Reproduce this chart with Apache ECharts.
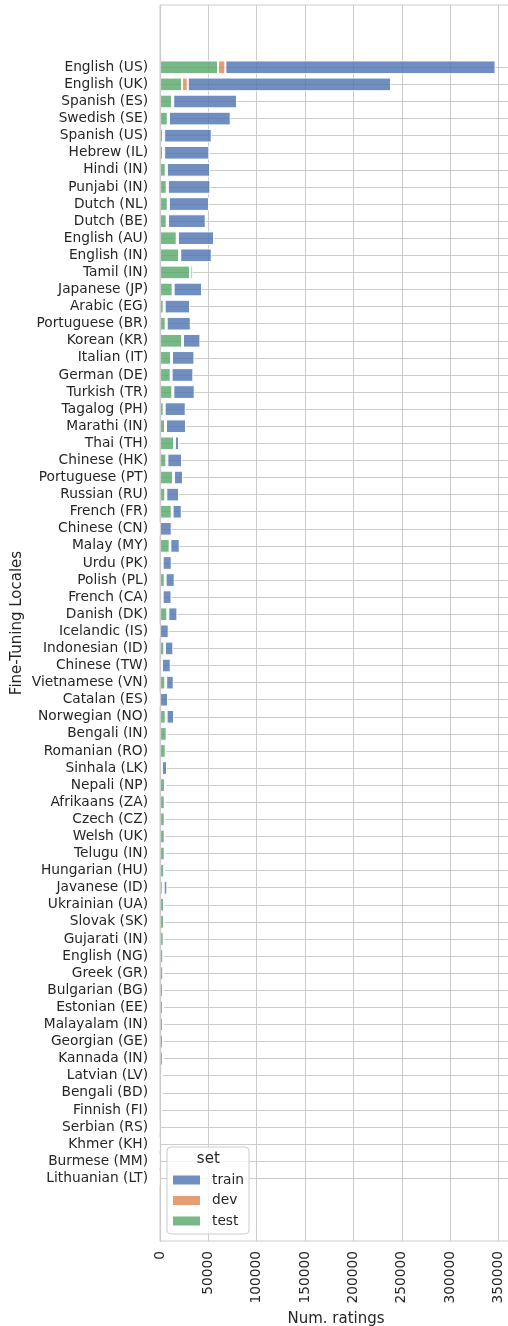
<!DOCTYPE html>
<html><head><meta charset="utf-8">
<script src="https://cdn.jsdelivr.net/npm/echarts/dist/echarts.min.js"></script>
<style>html,body{margin:0;padding:0;background:#fff}#c{width:508px;height:1326px}</style>
</head><body><div id="c"></div>
<script>
const locales = ['English (US)','English (UK)','Spanish (ES)','Swedish (SE)','Spanish (US)','Hebrew (IL)','Hindi (IN)','Punjabi (IN)','Dutch (NL)','Dutch (BE)','English (AU)','English (IN)','Tamil (IN)','Japanese (JP)','Arabic (EG)','Portuguese (BR)','Korean (KR)','Italian (IT)','German (DE)','Turkish (TR)','Tagalog (PH)','Marathi (IN)','Thai (TH)','Chinese (HK)','Portuguese (PT)','Russian (RU)','French (FR)','Chinese (CN)','Malay (MY)','Urdu (PK)','Polish (PL)','French (CA)','Danish (DK)','Icelandic (IS)','Indonesian (ID)','Chinese (TW)','Vietnamese (VN)','Catalan (ES)','Norwegian (NO)','Bengali (IN)','Romanian (RO)','Sinhala (LK)','Nepali (NP)','Afrikaans (ZA)','Czech (CZ)','Welsh (UK)','Telugu (IN)','Hungarian (HU)','Javanese (ID)','Ukrainian (UA)','Slovak (SK)','Gujarati (IN)','English (NG)','Greek (GR)','Bulgarian (BG)','Estonian (EE)','Malayalam (IN)','Georgian (GE)','Kannada (IN)','Latvian (LV)','Bengali (BD)','Finnish (FI)','Serbian (RS)','Khmer (KH)','Burmese (MM)','Lithuanian (LT)'];

const testVals = [60000,22800,12400,8000,3100,3100,5900,6900,8000,6900,17300,19700,31000,13100,3800,5900,22800,11400,11100,12800,3800,5200,14500,6600,13500,5500,12100,0,10000,1700,4900,1700,7600,0,4500,1000,5500,0,5900,6900,5900,700,5200,4900,4900,4900,4900,4500,2800,4300,4200,3800,3500,3500,3100,3100,3100,3100,3100,2000,1800,1400,500,200,100,100];

const devVals = [7600,5900,1300,1300,1200,1200,1200,1200,1200,1400,1200,1200,400,1000,1000,1000,1000,1000,900,1000,1000,1000,900,1000,900,1000,900,0,700,1000,900,1000,1000,0,600,1000,900,0,900,0,0,1300,0,0,0,0,0,0,1000,0,0,0,0,0,0,0,0,0,0,0,0,0,0,0,0,0];

const trainVals = [279400,210300,66000,63800,49200,46700,44700,44000,41500,39000,37400,32600,2400,29400,26300,24900,18000,23200,22500,22100,21800,20700,4300,15200,9400,13200,9500,12100,9700,9400,9400,9200,9400,9000,8700,9100,7800,8300,7700,0,0,5300,0,0,0,0,0,0,3800,0,0,0,0,0,0,0,0,0,0,0,0,0,0,0,0,0];

const legendOrder = ['train','dev','test'];
const tickStep = 50000;
const xMax = 364000;

const FONT = 'DejaVu Sans';
const TXT = '#262626';
const GRID = '#cccccc';

const chart = echarts.init(document.getElementById('c'), null, {renderer:'canvas'});
const mk = (name, data, color) => ({
  name, type:'bar', stack:'s', xAxisIndex:1, yAxisIndex:1, data,
  barWidth:'80%',
  itemStyle:{color, borderColor:'#ffffff', borderWidth:1}
});
chart.setOption({
  animation:false,
  textStyle:{fontFamily:FONT},
  grid:[
    {left:160, top:5, width:352, height:1236, show:true, borderColor:GRID, borderWidth:1, backgroundColor:'transparent', outerBoundsMode:'none', containLabel:false},
    {left:160, top:67.3, width:352, height:1111, outerBoundsMode:'none', containLabel:false}
  ],
  xAxis:[
    {gridIndex:0, type:'value', min:0, max:xMax, interval:tickStep,
     name:'Num. ratings', nameLocation:'middle', nameGap:68,
     nameTextStyle:{fontSize:15, color:TXT, fontFamily:FONT},
     axisLine:{show:false}, axisTick:{show:false},
     splitLine:{show:true, lineStyle:{color:GRID, width:1}},
     axisLabel:{rotate:90, fontSize:13.75, color:TXT, fontFamily:FONT, margin:10, showMaxLabel:false,
       formatter: v => (v % tickStep === 0 ? String(v) : '')}},
    {gridIndex:1, type:'value', min:0, max:xMax, show:false}
  ],
  yAxis:[
    {gridIndex:0, type:'value', min:0, max:1, z:10,
     axisLine:{show:true, lineStyle:{color:GRID, width:1.25}},
     axisTick:{show:false}, axisLabel:{show:false}, splitLine:{show:false},
     name:'Fine-Tuning Locales', nameLocation:'middle', nameGap:135,
     nameTextStyle:{fontSize:15, color:TXT, fontFamily:FONT}},
    {gridIndex:1, type:'category', data:locales, inverse:true, boundaryGap:false,
     axisLine:{show:false}, axisTick:{show:false},
     axisLabel:{interval:0, fontSize:13.75, color:TXT, fontFamily:FONT, margin:12},
     splitLine:{show:true, interval:0, lineStyle:{color:GRID, width:1}}}
  ],
  legend:{
    data:legendOrder, orient:'vertical', left:167, top:1147,
    padding:[26,5,6,6], itemWidth:27, itemHeight:9, itemGap:6.5, icon:'rect',
    backgroundColor:'rgba(255,255,255,0.8)', borderColor:GRID, borderWidth:1, borderRadius:4,
    textStyle:{fontSize:13.75, color:TXT, fontFamily:FONT, padding:[0,0,0,7]},
    itemStyle:{borderWidth:0}
  },
  graphic:[{type:'text', x:208.3, y:1159.3, z:100,
    style:{text:'set', fontSize:15, fontFamily:FONT, fill:TXT, align:'center', verticalAlign:'middle', textAlign:'center', textVerticalAlign:'middle'}}],
  series:[
    mk('test', testVals, 'rgba(85,168,104,0.8)'),
    mk('dev', devVals, 'rgba(221,132,82,0.8)'),
    mk('train', trainVals, 'rgba(76,114,176,0.8)')
  ]
});
</script></body></html>
